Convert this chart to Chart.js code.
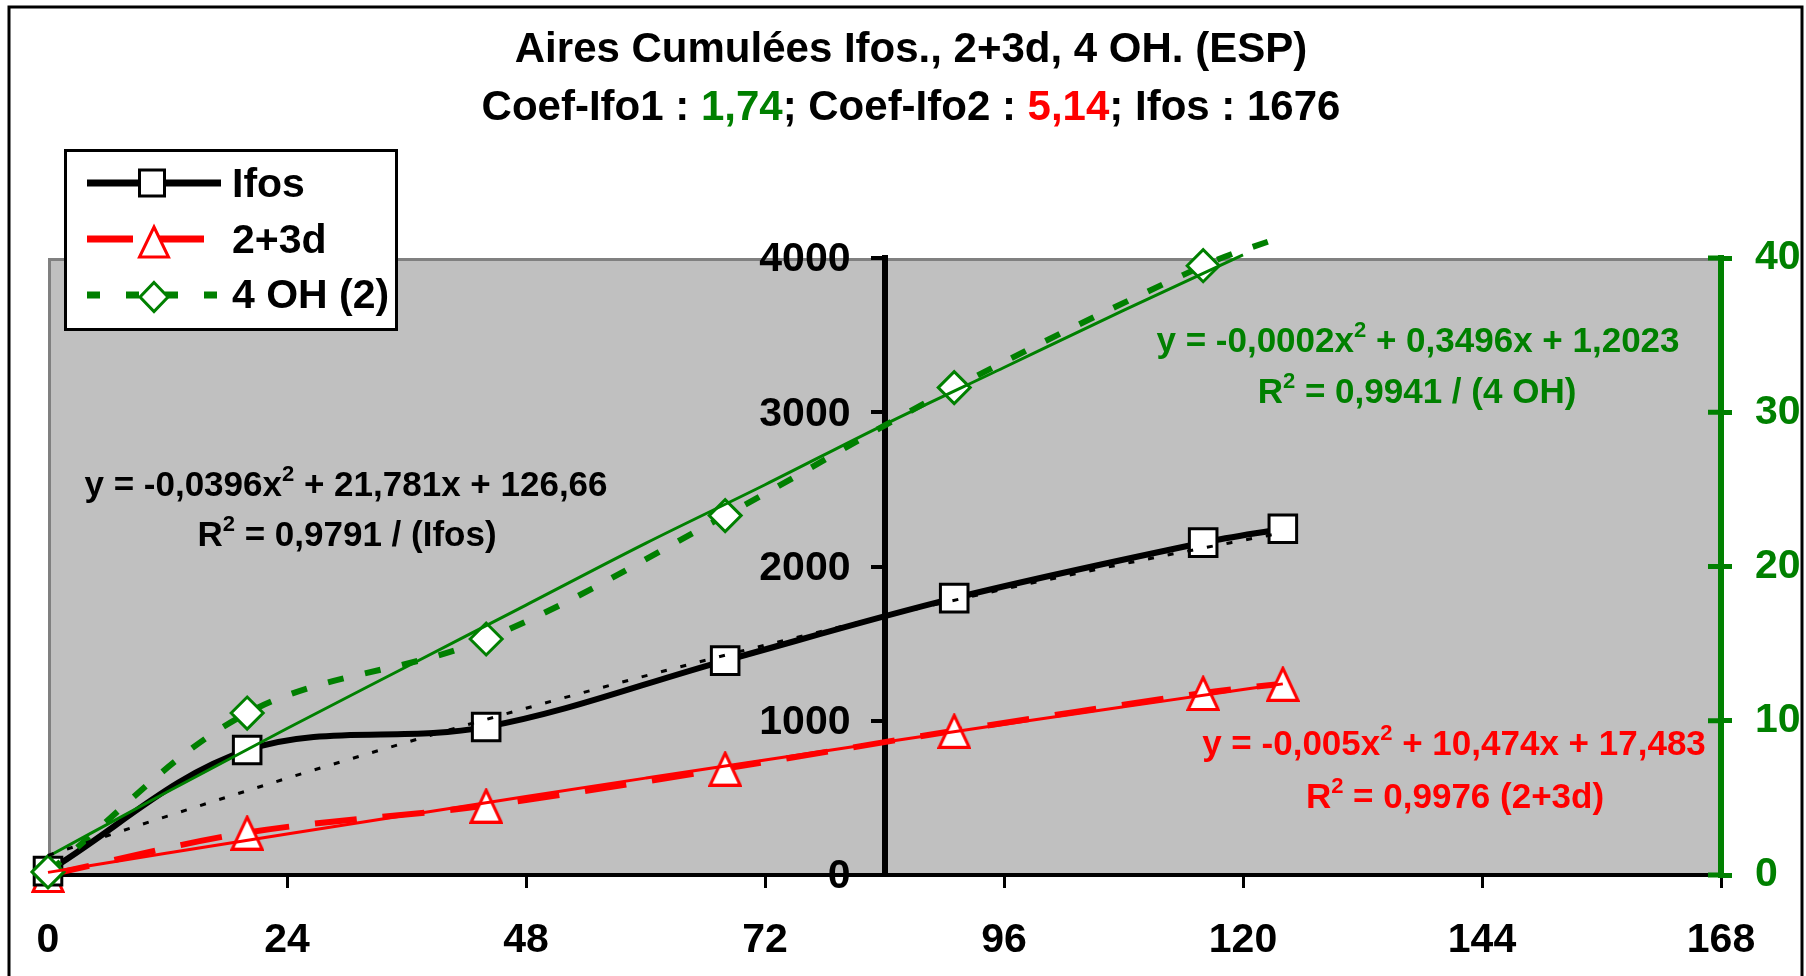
<!DOCTYPE html>
<html>
<head>
<meta charset="utf-8">
<title>Aires Cumulées Ifos., 2+3d, 4 OH. (ESP)</title>
<script src="https://cdn.jsdelivr.net/npm/chart.js@4.4.1/dist/chart.umd.min.js"></script>
<style>
  html, body { margin: 0; padding: 0; background: #fff; }
  #wrap { width: 1806px; height: 976px; }
</style>
</head>
<body>
<div id="wrap"><canvas id="chart" width="1806" height="976"></canvas></div>
<script>
const FONT = "'Liberation Sans', Arial, sans-serif";
const GREEN = '#008000';
const RED = '#ff0000';

// sampling hours and cumulated areas
const hours = [0, 20, 44, 68, 91, 116, 124];
const ifos = [25, 810, 960, 1390, 1795, 2155, 2245];
const d23 = [0, 275, 450, 690, 935, 1180, 1240];
const oh4 = [0.2, 10.5, 15.3, 23.3, 31.6, 39.5, 41.4];   // right axis

// polynomial trend curves
const trendHours = [0, 12, 24, 36, 48, 60, 72, 84, 96, 108, 120, 124];
const ifosTrend = [127, 382, 627, 860, 1081, 1291, 1490, 1677, 1853, 2017, 2170, 2219];
const d23Trend = [17, 142, 266, 388, 509, 628, 746, 862, 977, 1090, 1202, 1239];
const ohTrendHours = [0, 12, 24, 36, 48, 60, 72, 84, 96, 108, 120];
const ohTrend = [1.2, 5.4, 9.5, 13.5, 17.5, 21.5, 25.3, 29.2, 32.9, 36.6, 40.2];

// axes
const xTicks = [0, 24, 48, 72, 96, 120, 144, 168];
const leftTicks = [0, 1000, 2000, 3000, 4000];
const rightTicks = [0, 10, 20, 30, 40];
const crossAt = 84;   // left value axis crosses the time axis here

const pts = (xs, ys) => xs.map((x, i) => ({ x: x, y: ys[i] }));
const tickFont = { family: FONT, size: 41, weight: 'bold' };

function setTicks(list) {
    return function(scale) { scale.ticks = list.map(v => ({ value: v })); };
}

// hollow triangle marker as an image, like the spreadsheet one
function triangleImage(w, h, color) {
    const c = document.createElement('canvas');
    c.width = w;
    c.height = h;
    const g = c.getContext('2d');
    g.fillStyle = '#fff';
    g.strokeStyle = color;
    g.lineWidth = 3;
    g.lineJoin = 'miter';
    g.beginPath();
    g.moveTo(w / 2, 2.5);
    g.lineTo(w - 2, h - 1.5);
    g.lineTo(2, h - 1.5);
    g.closePath();
    g.fill();
    g.stroke();
    return c;
}

// writes a line made of coloured pieces, centred on cx
function drawRuns(ctx, runs, cx, y) {
    let w = 0;
    runs.forEach(r => { ctx.font = r.sup ? 'bold 22px ' + FONT : ctx.baseFont; w += ctx.measureText(r.t).width; });
    let x = cx - w / 2;
    runs.forEach(r => {
        ctx.font = r.sup ? 'bold 22px ' + FONT : ctx.baseFont;
        ctx.fillStyle = r.c;
        ctx.fillText(r.t, x, r.sup ? y - 15 : y);
        x += ctx.measureText(r.t).width;
    });
}

function marker(ctx, style, x, y, w, h, color) {
    ctx.save();
    ctx.fillStyle = '#fff';
    ctx.strokeStyle = color;
    ctx.lineWidth = 3;
    ctx.setLineDash([]);
    ctx.beginPath();
    if (style === 'rect') {
        ctx.rect(x - w / 2, y - h / 2, w, h);
    } else if (style === 'triangle') {
        ctx.moveTo(x, y - h / 2);
        ctx.lineTo(x + w / 2, y + h / 2);
        ctx.lineTo(x - w / 2, y + h / 2);
        ctx.closePath();
    } else {
        ctx.moveTo(x, y - h / 2);
        ctx.lineTo(x + w / 2, y);
        ctx.lineTo(x, y + h / 2);
        ctx.lineTo(x - w / 2, y);
        ctx.closePath();
    }
    ctx.fill();
    ctx.stroke();
    ctx.restore();
}

const frame = {
    id: 'frame',
    beforeDraw(chart) {
        const ctx = chart.ctx, a = chart.chartArea;
        ctx.save();
        ctx.fillStyle = '#fff';
        ctx.fillRect(0, 0, chart.width, chart.height);
        ctx.fillStyle = '#c0c0c0';
        ctx.fillRect(a.left, a.top, a.right - a.left, a.bottom - a.top);
        ctx.strokeStyle = '#808080';
        ctx.lineWidth = 3;
        ctx.beginPath();
        ctx.moveTo(a.left + 1.5, a.bottom);
        ctx.lineTo(a.left + 1.5, a.top + 1.5);
        ctx.lineTo(a.right, a.top + 1.5);
        ctx.stroke();
        ctx.strokeStyle = '#000';
        ctx.strokeRect(9, 7, 1793, 1000);
        ctx.restore();
    },
    afterDraw(chart) {
        const ctx = chart.ctx, a = chart.chartArea;
        ctx.save();

        // right axis ticks cross the line
        const y2 = chart.scales.y2;
        ctx.strokeStyle = GREEN;
        ctx.lineWidth = 5;
        y2.ticks.forEach(t => {
            const py = y2.getPixelForValue(t.value);
            ctx.beginPath();
            ctx.moveTo(a.right - 13, py);
            ctx.lineTo(a.right, py);
            ctx.stroke();
        });

        // labels of the left axis, set off from the crossing line
        const ys = chart.scales.y;
        const axisX = chart.scales.x.getPixelForValue(crossAt);
        ctx.font = 'bold 41px ' + FONT;
        ctx.fillStyle = '#000';
        ctx.textAlign = 'right';
        ctx.textBaseline = 'middle';
        ys.ticks.forEach(t => {
            ctx.fillText(String(t.value), axisX - 34, ys.getPixelForValue(t.value) + 2);
        });

        // title
        ctx.textAlign = 'left';
        ctx.textBaseline = 'alphabetic';
        ctx.baseFont = 'bold 42px ' + FONT;
        drawRuns(ctx, [{ t: 'Aires Cumulées Ifos., 2+3d, 4 OH. (ESP)', c: '#000' }], 911, 62);
        drawRuns(ctx, [
            { t: 'Coef-Ifo1 : ', c: '#000' }, { t: '1,74', c: GREEN },
            { t: '; Coef-Ifo2 : ', c: '#000' }, { t: '5,14', c: RED },
            { t: '; Ifos : 1676', c: '#000' }
        ], 911, 120);

        // fitted equations
        ctx.baseFont = 'bold 35px ' + FONT;
        drawRuns(ctx, [{ t: 'y = -0,0396x', c: '#000' }, { t: '2', c: '#000', sup: true }, { t: ' + 21,781x + 126,66', c: '#000' }], 346, 496);
        drawRuns(ctx, [{ t: 'R', c: '#000' }, { t: '2', c: '#000', sup: true }, { t: ' = 0,9791 / (Ifos)', c: '#000' }], 347, 546);
        drawRuns(ctx, [{ t: 'y = -0,0002x', c: GREEN }, { t: '2', c: GREEN, sup: true }, { t: ' + 0,3496x + 1,2023', c: GREEN }], 1418, 352);
        drawRuns(ctx, [{ t: 'R', c: GREEN }, { t: '2', c: GREEN, sup: true }, { t: ' = 0,9941 / (4 OH)', c: GREEN }], 1417, 403);
        drawRuns(ctx, [{ t: 'y = -0,005x', c: RED }, { t: '2', c: RED, sup: true }, { t: ' + 10,474x + 17,483', c: RED }], 1454, 755);
        drawRuns(ctx, [{ t: 'R', c: RED }, { t: '2', c: RED, sup: true }, { t: ' = 0,9976 (2+3d)', c: RED }], 1455, 808);

        // legend
        ctx.fillStyle = '#fff';
        ctx.fillRect(65, 150, 332, 180);
        ctx.strokeStyle = '#000';
        ctx.lineWidth = 3;
        ctx.strokeRect(65.5, 150.5, 331, 179);

        const items = [
            { ds: 4, y: 183, end: 221, dash: [], style: 'rect', w: 25, h: 26, mx: 152, my: 183, base: 197 },
            { ds: 5, y: 239, end: 205, dash: [46, 25], style: 'triangle', w: 29, h: 30, mx: 154, my: 242, base: 253 },
            { ds: 3, y: 295, end: 218, dash: [13, 26], style: 'diamond', w: 28, h: 29, mx: 154, my: 297, base: 308 }
        ];
        items.forEach(it => {
            const ds = chart.data.datasets[it.ds];
            ctx.strokeStyle = ds.borderColor;
            ctx.lineWidth = 7;
            ctx.setLineDash(it.dash);
            ctx.beginPath();
            ctx.moveTo(87, it.y);
            ctx.lineTo(it.end, it.y);
            ctx.stroke();
            ctx.setLineDash([]);
            marker(ctx, it.style, it.mx, it.my, it.w, it.h, ds.borderColor);
            ctx.fillStyle = '#000';
            ctx.font = 'bold 41px ' + FONT;
            ctx.fillText(ds.label, 232, it.base);
        });
        ctx.restore();
    }
};

new Chart(document.getElementById('chart'), {
    type: 'line',
    data: {
        datasets: [
            { label: 'Ifos (tendance)', data: pts(trendHours, ifosTrend), yAxisID: 'y',
              borderColor: '#000', borderWidth: 3, borderDash: [6, 14], pointRadius: 0,
              cubicInterpolationMode: 'monotone', order: 0, clip: false },
            { label: '2+3d (tendance)', data: pts(trendHours, d23Trend), yAxisID: 'y',
              borderColor: RED, borderWidth: 3, pointRadius: 0,
              cubicInterpolationMode: 'monotone', order: 0, clip: false },
            { label: '4 OH (tendance)', data: pts(ohTrendHours, ohTrend), yAxisID: 'y2',
              borderColor: GREEN, borderWidth: 3, pointRadius: 0,
              cubicInterpolationMode: 'monotone', order: 0, clip: false },
            { label: '4 OH (2)', data: pts(hours, oh4), yAxisID: 'y2',
              borderColor: GREEN, borderWidth: 6, borderDash: [16, 22], tension: 0.35,
              pointStyle: 'rectRot', pointRadius: hours.map((h, i) => i === hours.length - 1 ? 0 : 16),
              pointBackgroundColor: '#fff', pointBorderColor: GREEN, pointBorderWidth: 3,
              order: 1, clip: false },
            { label: 'Ifos', data: pts(hours, ifos), yAxisID: 'y',
              borderColor: '#000', borderWidth: 6, tension: 0.35,
              pointStyle: 'rect', pointRadius: 19.5,
              pointBackgroundColor: '#fff', pointBorderColor: '#000', pointBorderWidth: 3,
              order: 2, clip: false },
            { label: '2+3d', data: pts(hours, d23), yAxisID: 'y',
              borderColor: RED, borderWidth: 6, borderDash: [42, 26], tension: 0.35,
              pointStyle: triangleImage(34, 36, RED), pointRadius: 18,
              order: 3, clip: false }
        ]
    },
    options: {
        responsive: false,
        animation: false,
        devicePixelRatio: 1,
        events: [],
        layout: { padding: { left: 48, top: 258, right: 0, bottom: 0 } },
        elements: { line: { capBezierPoints: false } },
        plugins: { legend: { display: false }, title: { display: false }, tooltip: { enabled: false } },
        scales: {
            x: {
                type: 'linear', min: xTicks[0], max: xTicks[xTicks.length - 1],
                afterBuildTicks: setTicks(xTicks),
                afterFit: s => { s.height = 101; },
                border: { color: '#000', width: 4 },
                grid: { drawOnChartArea: false, tickLength: 13, color: '#000', lineWidth: 3 },
                ticks: { color: '#000', font: tickFont, padding: 28, maxRotation: 0, autoSkip: false }
            },
            y: {
                type: 'linear', position: { x: crossAt },
                min: leftTicks[0], max: leftTicks[leftTicks.length - 1],
                afterBuildTicks: setTicks(leftTicks),
                border: { color: '#000', width: 6 },
                grid: { drawOnChartArea: false, tickLength: 11, color: '#000', lineWidth: 4 },
                ticks: { display: false }
            },
            y2: {
                type: 'linear', position: 'right',
                min: rightTicks[0], max: rightTicks[rightTicks.length - 1],
                afterBuildTicks: setTicks(rightTicks),
                afterFit: s => { s.width = 85; },
                border: { color: GREEN, width: 6 },
                grid: { drawOnChartArea: false, tickLength: 11, color: GREEN, lineWidth: 5 },
                ticks: { color: GREEN, font: tickFont, padding: 23 }
            }
        }
    },
    plugins: [frame]
});
</script>
</body>
</html>
